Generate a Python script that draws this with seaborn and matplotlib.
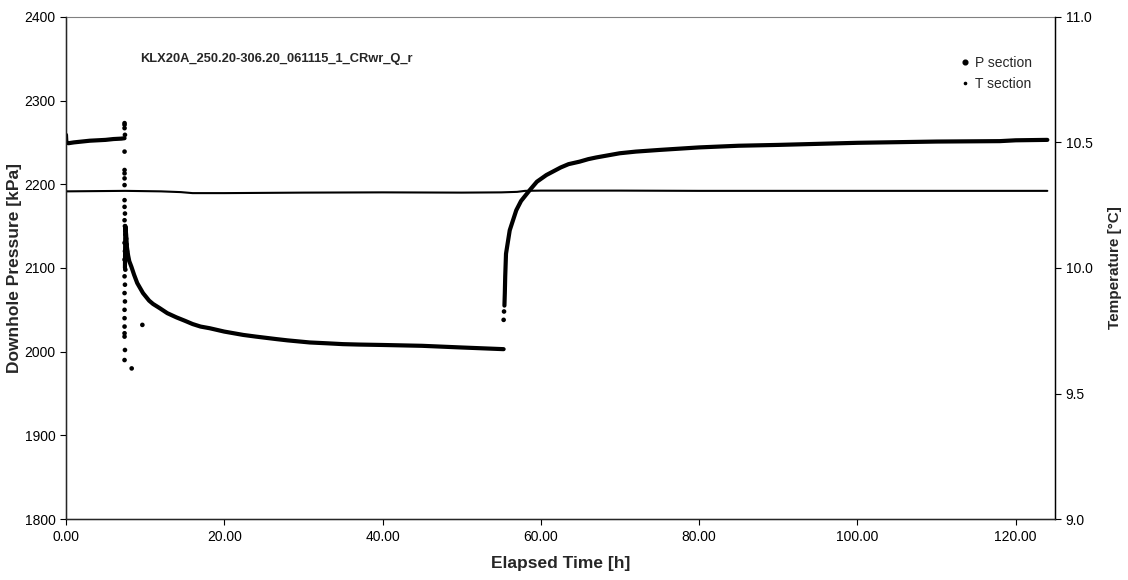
import matplotlib
matplotlib.use("Agg")
import matplotlib.pyplot as plt
from matplotlib.lines import Line2D
import seaborn as sns
import pandas as pd

# ---- data ----
# Pressure: pre-test period (t in h, p in kPa)
pre_t = [0.0, 0.02, 0.05, 0.3, 1.0, 2.0, 3.0, 4.0, 5.0, 6.0, 7.0, 7.4]
pre_p = [2259, 2255, 2250, 2249, 2250, 2251, 2252, 2252.5, 2253, 2254, 2254.5, 2255]

# Pressure: flow period (drawdown)
flow_t = [7.45, 7.5, 7.6, 7.7, 7.85, 8.0, 8.26, 8.6, 9.0, 9.73, 10.5, 11.0, 11.84,
          12.8, 13.95, 15.0, 16.0, 17.0, 18.16, 20.0, 22.4, 24.0, 26.6, 28.0, 30.8,
          33.0, 35.0, 37.0, 40.0, 45.0, 50.0, 55.3]
flow_p = [2100, 2150, 2140, 2125, 2115, 2108, 2101.6, 2092, 2082, 2070, 2061, 2057,
          2052, 2046, 2041, 2037, 2033, 2030, 2028, 2024, 2020, 2018, 2015, 2013.5,
          2011, 2010, 2009, 2008.5, 2008, 2007, 2005, 2003]

# Pressure: recovery period
rec_t = [55.4, 55.45, 55.5, 55.6, 56.07, 56.9, 57.5, 58.6, 59.5, 60.7, 61.5, 62.5,
         63.5, 64.9, 66.0, 67.0, 69.96, 72.0, 75.0, 80.0, 85.0, 90.0, 100.0, 110.0,
         118.0, 120.0, 124.0]
rec_p = [2055, 2070, 2090, 2117, 2145, 2169, 2180, 2193, 2203, 2211, 2215, 2220,
         2224, 2227, 2230, 2232, 2237, 2239, 2241, 2244, 2246, 2247, 2249.5, 2251,
         2251.5, 2252.5, 2253]

# Pressure: scattered readings around the pump start / stop
scat_t = [7.4, 7.4, 7.4, 7.45, 7.4, 7.4, 7.4, 7.4, 7.4, 7.4, 7.4, 7.45, 7.4, 7.45,
          7.5, 7.4, 7.45, 7.4, 7.5, 7.4, 7.45, 7.4, 7.45, 7.4, 7.4, 7.4, 7.4, 7.4,
          7.45, 8.3, 7.4, 9.65, 55.3, 55.35, 7.6, 7.7, 7.55, 7.65]
scat_p = [2273, 2271, 2267, 2259, 2239, 2217, 2213, 2207, 2199, 2181, 2173, 2165,
          2157, 2150, 2140, 2130, 2120, 2110, 2098, 2090, 2080, 2070, 2060, 2050,
          2040, 2030, 2022, 2018, 2002, 1980, 1990, 2032, 2038, 2048, 2135, 2120,
          2145, 2128]

# Temperature (deg C)
temp_t = [0.0, 7.5, 12.0, 14.5, 16.0, 20.0, 30.0, 40.0, 50.0, 55.0, 57.0, 58.0, 60.0,
          70.0, 80.0, 90.0, 100.0, 110.0, 124.0]
temp_v = [10.305, 10.307, 10.305, 10.302, 10.298, 10.298, 10.300, 10.301, 10.300,
          10.301, 10.303, 10.307, 10.308, 10.308, 10.307, 10.307, 10.307, 10.307, 10.307]

title = "KLX20A_250.20-306.20_061115_1_CRwr_Q_r"
x_ticks = [0, 20, 40, 60, 80, 100, 120]
p_ticks = [1800, 1900, 2000, 2100, 2200, 2300, 2400]
t_ticks = [9.0, 9.5, 10.0, 10.5, 11.0]

# ---- style ----
sns.set_style("ticks")
plt.rcParams["font.family"] = ["Liberation Sans", "DejaVu Sans"]
plt.rcParams["font.size"] = 10

fig = plt.figure(figsize=(11.28, 5.80), dpi=100)
ax = fig.add_axes([0.0585, 0.105, 0.877, 0.866])

for tt, pp in [(pre_t, pre_p), (flow_t, flow_p), (rec_t, rec_p)]:
    df = pd.DataFrame({"t": tt, "p": pp})
    sns.lineplot(data=df, x="t", y="p", ax=ax, color="black", linewidth=3.0,
                 sort=False, estimator=None)

sns.scatterplot(x=scat_t, y=scat_p, ax=ax, color="black", s=11, edgecolor="none",
                linewidth=0)

ax.set_xlim(0, 125)
ax.set_ylim(1800, 2400)
ax.set_xticks(x_ticks)
ax.set_xticklabels([f"{v:.2f}" for v in x_ticks])
ax.set_yticks(p_ticks)
ax.set_xlabel("Elapsed Time [h]", fontweight="bold", fontsize=12.5, labelpad=9)
ax.set_ylabel("Downhole Pressure [kPa]", fontweight="bold", fontsize=12.5, labelpad=2)
ax.tick_params(axis="both", direction="out", length=4, width=0.8, labelsize=10,
               colors="black")
for s in ["left", "bottom"]:
    ax.spines[s].set_color("black")
    ax.spines[s].set_linewidth(1.0)
ax.spines["top"].set_visible(True)
ax.spines["top"].set_color("#808080")
ax.spines["top"].set_linewidth(0.8)

ax2 = ax.twinx()
dft = pd.DataFrame({"t": temp_t, "T": temp_v})
sns.lineplot(data=dft, x="t", y="T", ax=ax2, color="black", linewidth=1.5,
             sort=False, estimator=None)
ax2.set_ylim(9.0, 11.0)
ax2.set_yticks(t_ticks)
ax2.set_yticklabels([f"{v:.1f}" for v in t_ticks])
ax2.set_ylabel("Temperature [°C]", fontweight="bold", fontsize=11, labelpad=11)
ax2.yaxis.set_label_position("right")
ax2.tick_params(axis="y", direction="out", length=4, width=0.8, labelsize=10,
                colors="black")
ax2.spines["right"].set_visible(True)
ax2.spines["right"].set_color("black")
ax2.spines["right"].set_linewidth(1.0)
ax2.spines["top"].set_visible(False)
ax2.set_xlim(0, 125)

ax.text(0.075, 0.917, title, transform=ax.transAxes, fontsize=9.3,
        fontweight="bold", va="center", ha="left")

handles = [
    Line2D([], [], marker="o", linestyle="none", color="black", markersize=3.4),
    Line2D([], [], marker="o", linestyle="none", color="black", markersize=1.6),
]
ax2.legend(handles, ["P section", "T section"], loc="upper right",
           bbox_to_anchor=(0.982, 0.934), frameon=False, fontsize=10,
           handletextpad=0.2, handlelength=1.0, labelspacing=0.55,
           borderaxespad=0)

fig.savefig("out.png", dpi=100)
